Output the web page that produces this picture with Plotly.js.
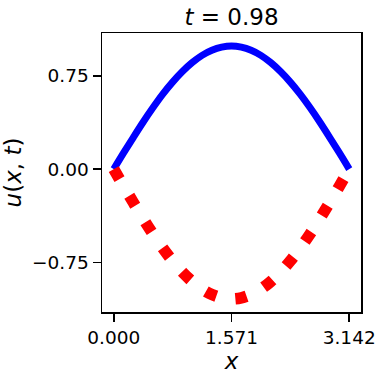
<!DOCTYPE html>
<html>
<head>
<meta charset="utf-8">
<script src="https://cdn.plot.ly/plotly-3.0.1.min.js"></script>
<style>
  html, body { margin: 0; padding: 0; background: #fff; }
  #myDiv { width: 382px; height: 382px; }
</style>
</head>
<body>
<div id="myDiv"></div>
<script>
// x grid (0 .. pi)
const xs = [0.000, 0.131, 0.262, 0.393, 0.524, 0.654, 0.785, 0.916, 1.047, 1.178, 1.309, 1.440,
            1.571, 1.702, 1.833, 1.963, 2.094, 2.225, 2.356, 2.487, 2.618, 2.749, 2.880, 3.011, 3.142];
// blue solid curve
const uBlue = [0.000, 0.130, 0.256, 0.379, 0.495, 0.603, 0.700, 0.785, 0.857, 0.915, 0.956, 0.981,
               0.990, 0.981, 0.956, 0.915, 0.857, 0.785, 0.700, 0.603, 0.495, 0.379, 0.256, 0.130, 0.000];
// red dotted curve
const uRed = [0.000, -0.137, -0.270, -0.400, -0.523, -0.636, -0.739, -0.829, -0.905, -0.966, -1.009, -1.036,
              -1.045, -1.036, -1.009, -0.966, -0.905, -0.829, -0.739, -0.636, -0.523, -0.400, -0.270, -0.137, 0.000];

const xTickVals = [0, 1.5708, 3.1416];
const xTickText = ["0.000", "1.571", "3.142"];
const yTickVals = [-0.75, 0, 0.75];
const yTickText = ["\u22120.75", "0.00", "0.75"];

const font = "DejaVu Sans, sans-serif";

const blueLine = {
    x: xs,
    y: uBlue,
    mode: "lines",
    line: { color: "#0000ff", width: 7, shape: "spline" },
    hoverinfo: "skip",
};

const redLine = {
    x: xs,
    y: uRed,
    mode: "lines",
    line: { color: "#ff0000", width: 11.5, dash: "11.5px,19.4px", shape: "spline" },
    hoverinfo: "skip",
};

const axisCommon = {
    showline: true,
    mirror: true,
    linecolor: "#000",
    linewidth: 1.5,
    showgrid: false,
    zeroline: false,
    ticks: "outside",
    ticklen: 8,
    tickwidth: 1.5,
    tickcolor: "#000",
    tickfont: { family: font, size: 18.5, color: "#000" },
};

const layout = {
    width: 382,
    height: 382,
    margin: { l: 102, r: 21, t: 33, b: 70 },
    paper_bgcolor: "#fff",
    plot_bgcolor: "#fff",
    showlegend: false,
    font: { family: font, color: "#000" },
    title: {
        text: "<i>t</i> = 0.98",
        font: { family: font, size: 23, color: "#000" },
        xref: "paper", x: 0.5, xanchor: "center",
        yref: "container", y: 0.955, yanchor: "middle",
    },
    xaxis: Object.assign({}, axisCommon, {
        range: [-0.157, 3.299],
        tickvals: xTickVals,
        ticktext: xTickText,
        title: { text: "<i>x</i>", font: { family: font, size: 23, color: "#000" }, standoff: 4 },
    }),
    yaxis: Object.assign({}, axisCommon, {
        range: [-1.15, 1.095],
        tickvals: yTickVals,
        ticktext: yTickText,
        title: { text: "<i>u</i>(<i>x</i>, <i>t</i>)", font: { family: font, size: 23, color: "#000" }, standoff: 10 },
    }),
};

Plotly.newPlot("myDiv", [blueLine, redLine], layout, { displayModeBar: false, staticPlot: true });
</script>
</body>
</html>
